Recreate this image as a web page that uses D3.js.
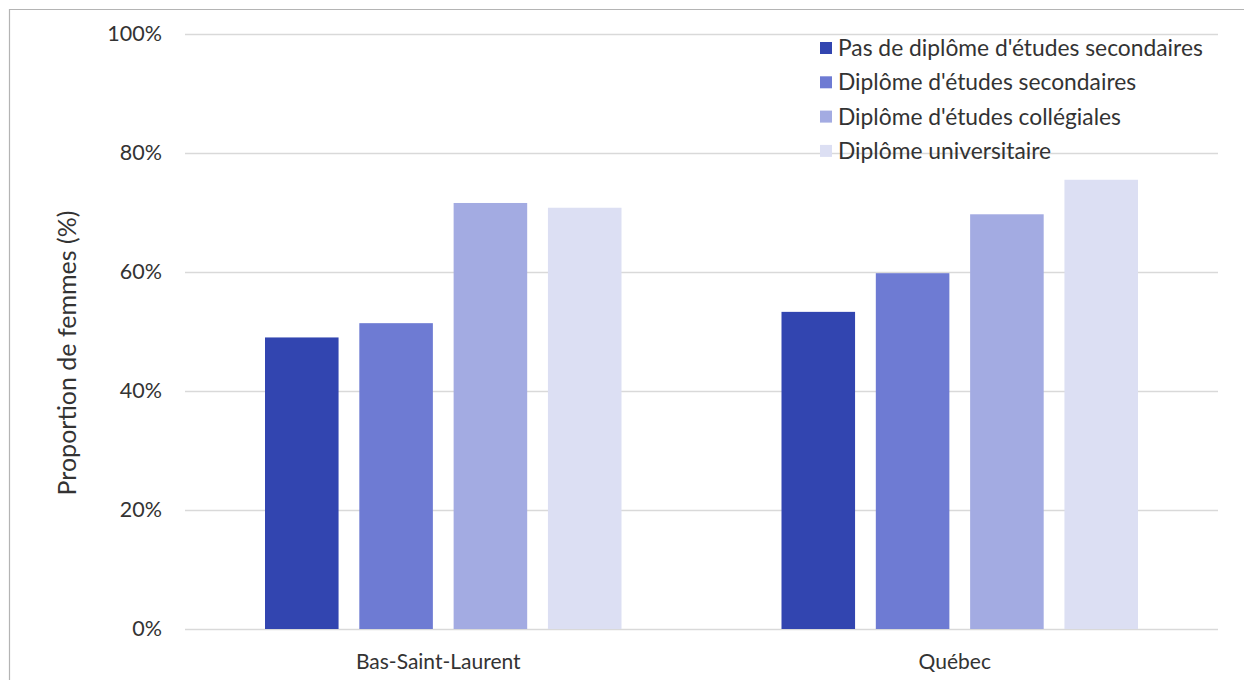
<!DOCTYPE html>
<html>
<head>
<meta charset="utf-8">
<script src="https://cdn.jsdelivr.net/npm/d3@7"></script>
<style>
  html, body { margin: 0; padding: 0; background: #fff; }
  svg { display: block; }
  text { font-family: Lato, "Open Sans", sans-serif; fill: #333; }
</style>
</head>
<body>
<svg id="chart" width="1244" height="680"></svg>
<script>
// Regions shown along the x axis
const regions = ["Bas-Saint-Laurent", "Québec"];
// Education levels (one bar per level in each region)
const levels = [
  "Pas de diplôme d'études secondaires",
  "Diplôme d'études secondaires",
  "Diplôme d'études collégiales",
  "Diplôme universitaire"
];
// Share of women (%) per level, one array per region
const basSaintLaurent = [49, 51.4, 71.6, 70.8];
const quebec = [53.3, 59.8, 69.7, 75.5];
const yTicks = [0, 20, 40, 60, 80, 100];
const colors = ["#3245b0", "#6e7bd3", "#a3abe2", "#dcdff3"];

const seriesByRegion = [basSaintLaurent, quebec];
const rows = regions.map((r, i) => ({
  region: r,
  values: levels.map((l, j) => ({ level: l, value: seriesByRegion[i][j] }))
}));

const svg = d3.select("#chart");
const margin = { top: 34, right: 26, bottom: 51, left: 185 };
const W = 1244, H = 680;
const innerW = W - margin.left - margin.right;
const innerH = H - margin.top - margin.bottom;

// outer frame
svg.append("path")
  .attr("d", `M9.5,${H} V9.5 H${W}`)
  .attr("fill", "none").attr("stroke", "#b4b4b4").attr("stroke-width", 1.2);

const g = svg.append("g").attr("transform", `translate(${margin.left},${margin.top})`);

const x0 = d3.scaleBand().domain(regions).range([0, innerW]).paddingInner(0).paddingOuter(0);
const x1 = d3.scaleBand().domain(levels).range([80, x0.bandwidth() - 80]).paddingInner(0.22);
const y = d3.scaleLinear().domain([0, 100]).range([innerH, 0]);

// gridlines + tick labels
const yAxis = d3.axisLeft(y).tickValues(yTicks).tickFormat(d => d + "%").tickSize(-innerW).tickPadding(23);
const ya = g.append("g").call(yAxis);
ya.select(".domain").remove();
ya.selectAll(".tick line").attr("stroke", "#d9d9d9").attr("stroke-width", 1.5);
ya.selectAll(".tick text").attr("font-size", 21.5).attr("fill", "#333")
  .style("font-family", "Lato, sans-serif");

// bars
const groups = g.selectAll(".grp").data(rows).join("g")
  .attr("transform", d => `translate(${x0(d.region)},0)`);
groups.selectAll("rect").data(d => d.values).join("rect")
  .attr("x", d => x1(d.level))
  .attr("width", x1.bandwidth())
  .attr("y", d => y(d.value))
  .attr("height", d => innerH - y(d.value))
  .attr("fill", (d, i) => colors[i]);

// category labels
const xAxis = d3.axisBottom(x0).tickSize(0).tickPadding(25);
const xa = g.append("g").attr("transform", `translate(-5,${innerH})`).call(xAxis);
xa.select(".domain").remove();
xa.selectAll(".tick text").attr("font-size", 21).attr("fill", "#333")
  .style("font-family", "Lato, sans-serif");

// y-axis title
svg.append("text")
  .attr("transform", `translate(76,${353}) rotate(-90)`)
  .attr("text-anchor", "middle")
  .attr("font-size", 25)
  .text("Proportion de femmes (%)");

// legend
const legend = svg.append("g").attr("transform", "translate(820,48)");
const items = legend.selectAll("g").data(levels).join("g")
  .attr("transform", (d, i) => `translate(0,${i * 34.3})`);
items.append("rect").attr("x", 0).attr("y", -6).attr("width", 12).attr("height", 12)
  .attr("fill", (d, i) => colors[i]);
items.append("text").attr("x", 18).attr("y", 0).attr("dy", "0.35em")
  .attr("font-size", 22.8).text(d => d);
</script>
</body>
</html>
